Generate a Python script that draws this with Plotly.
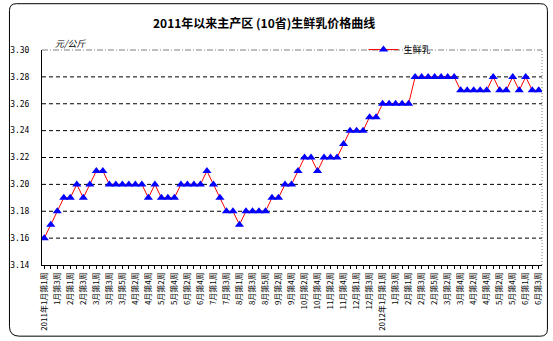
import plotly.graph_objects as go

# Weekly raw-milk price, main producing areas (10 provinces), yuan/kg
weeks = [
    "2011年1月第1周", "1月第2周", "1月第3周", "1月第4周",
    "2月第1周", "2月第2周", "2月第3周", "2月第4周",
    "3月第1周", "3月第2周", "3月第3周", "3月第4周", "3月第5周",
    "4月第1周", "4月第2周", "4月第3周", "4月第4周",
    "5月第1周", "5月第2周", "5月第3周", "5月第4周",
    "6月第1周", "6月第2周", "6月第3周", "6月第4周", "6月第5周",
    "7月第1周", "7月第2周", "7月第3周", "7月第4周",
    "8月第1周", "8月第2周", "8月第3周", "8月第4周", "8月第5周",
    "9月第1周", "9月第2周", "9月第3周", "9月第4周",
    "10月第1周", "10月第2周", "10月第3周", "10月第4周",
    "11月第1周", "11月第2周", "11月第3周", "11月第4周", "11月第5周",
    "12月第1周", "12月第2周", "12月第3周", "12月第4周",
    "2012年1月第1周", "1月第2周", "1月第3周", "1月第4周",
    "2月第1周", "2月第2周", "2月第3周", "2月第4周", "2月第5周",
    "3月第1周", "3月第2周", "3月第3周", "3月第4周",
    "4月第1周", "4月第2周", "4月第3周", "4月第4周",
    "5月第1周", "5月第2周", "5月第3周", "5月第4周", "5月第5周",
    "6月第1周", "6月第2周", "6月第3周",
]

milk_price = [
    3.16, 3.17, 3.18, 3.19, 3.19, 3.20, 3.19, 3.20, 3.21, 3.21,
    3.20, 3.20, 3.20, 3.20, 3.20, 3.20, 3.19, 3.20, 3.19, 3.19,
    3.19, 3.20, 3.20, 3.20, 3.20, 3.21, 3.20, 3.19, 3.18, 3.18,
    3.17, 3.18, 3.18, 3.18, 3.18, 3.19, 3.19, 3.20, 3.20, 3.21,
    3.22, 3.22, 3.21, 3.22, 3.22, 3.22, 3.23, 3.24, 3.24, 3.24,
    3.25, 3.25, 3.26, 3.26, 3.26, 3.26, 3.26, 3.28, 3.28, 3.28,
    3.28, 3.28, 3.28, 3.28, 3.27, 3.27, 3.27, 3.27, 3.27, 3.28,
    3.27, 3.27, 3.28, 3.27, 3.28, 3.27, 3.27,
]

y_ticks = [3.14, 3.16, 3.18, 3.20, 3.22, 3.24, 3.26, 3.28, 3.30]

FONT = "Noto Sans CJK SC"
W, H = 553, 341
ML, MR, MT, MB = 36, 10, 50, 75
PW, PH = W - ML - MR, H - MT - MB


def px(x):
    return (x - ML) / PW


def py(y):
    return (H - MB - y) / PH


idx = list(range(len(weeks)))
tick_text = [w if i % 2 == 0 else "" for i, w in enumerate(weeks)]

fig = go.Figure()
fig.add_trace(go.Scatter(
    x=idx, y=milk_price, mode="lines+markers", name="生鲜乳",
    line=dict(color="#FF0000", width=1),
    marker=dict(symbol="triangle-up", size=8, color="#0000FF",
                line=dict(width=0)),
))

# rounded outer frame of the chart
x0, x1, y0, y1 = 3, 548.5, 3.5, 337.5
r = 7
frame = (
    f"M {px(x0 + r)} {py(y0)} L {px(x1 - r)} {py(y0)} "
    f"Q {px(x1)} {py(y0)} {px(x1)} {py(y0 + r)} "
    f"L {px(x1)} {py(y1 - r)} Q {px(x1)} {py(y1)} {px(x1 - r)} {py(y1)} "
    f"L {px(x0 + r + 3)} {py(y1)} Q {px(x0)} {py(y1)} {px(x0)} {py(y1 - r - 3)} "
    f"L {px(x0)} {py(y0 + r)} Q {px(x0)} {py(y0)} {px(x0 + r)} {py(y0)} Z"
)

shapes = [
    dict(type="path", xref="paper", yref="paper", path=frame,
         line=dict(color="black", width=1), layer="below"),
    # plot-area top and right border
    dict(type="line", xref="paper", yref="paper", x0=0, x1=1, y0=1, y1=1,
         line=dict(color="#808080", width=1, dash="6px,2px,1px,2px")),
    dict(type="line", xref="paper", yref="paper", x0=1, x1=1, y0=0, y1=1,
         line=dict(color="#808080", width=1, dash="1px,2px")),
]
# dashed horizontal gridlines at the inner y ticks
for v in y_ticks[1:-1]:
    shapes.append(dict(type="line", xref="paper", yref="y", x0=0, x1=1,
                       y0=v, y1=v, layer="below",
                       line=dict(color="black", width=1, dash="4px,3px")))

fig.update_layout(
    width=W, height=H,
    margin=dict(l=ML, r=MR, t=MT, b=MB),
    paper_bgcolor="white", plot_bgcolor="white",
    font=dict(family=FONT, size=8, color="black"),
    shapes=shapes,
    showlegend=True,
    legend=dict(x=px(362), y=py(35), xanchor="left", yanchor="top",
                bgcolor="rgba(0,0,0,0)", font=dict(size=9),
                itemwidth=30, tracegroupgap=0),
    annotations=[
        dict(text="<b>2011年以来主产区 (10省)生鲜乳价格曲线</b>",
             xref="paper", yref="paper", x=px(261), y=py(22),
             xanchor="center", yanchor="middle", showarrow=False,
             font=dict(size=12, family=FONT)),
        dict(text="<i>元/公斤</i>", xref="paper", yref="paper",
             x=px(47), y=py(43), xanchor="left", yanchor="middle",
             showarrow=False, font=dict(size=9, family=FONT, color="black")),
    ],
)

fig.update_xaxes(
    range=[-0.35, len(weeks) - 0.5],
    tickmode="array", tickvals=idx, ticktext=tick_text,
    tickangle=-90, ticks="outside", ticklen=3, tickcolor="black",
    showline=True, linecolor="black", linewidth=1,
    showgrid=False, zeroline=False,
    tickfont=dict(size=8, family=FONT),
)
fig.update_yaxes(
    range=[3.14, 3.30],
    tickmode="array", tickvals=y_ticks, ticktext=[f"{v:.2f}" for v in y_ticks],
    showline=True, linecolor="black", linewidth=1,
    showgrid=False, zeroline=False, ticks="", ticklabelstandoff=10,
    tickfont=dict(size=8, family="DejaVu Sans Mono"),
)

fig.write_html("out.html")
